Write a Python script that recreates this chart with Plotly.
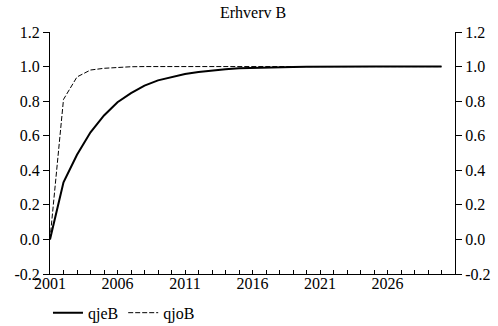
import plotly.graph_objects as go

# data
years = list(range(2001, 2031))
qjeB = [0.0, 0.33, 0.49, 0.62, 0.717, 0.794, 0.846, 0.89, 0.92, 0.94,
        0.957, 0.969, 0.978, 0.985, 0.99, 0.993, 0.995, 0.997, 0.998, 0.999,
        1.0, 1.0, 1.0, 1.0, 1.0, 1.0, 1.0, 1.0, 1.0, 1.0]
qjoB = [0.0, 0.81, 0.94, 0.98, 0.99, 0.996, 0.999, 1.0, 1.0, 1.0,
        1.0, 1.0, 1.0, 1.0, 1.0, 1.0, 1.0, 1.0, 1.0, 1.0,
        1.0, 1.0, 1.0, 1.0, 1.0, 1.0, 1.0, 1.0, 1.0, 1.0]
xticks = [2001, 2006, 2011, 2016, 2021, 2026]
yticks = [-0.2, 0.0, 0.2, 0.4, 0.6, 0.8, 1.0, 1.2]

font = "Liberation Serif"

fig = go.Figure()
fig.add_trace(go.Scatter(x=years, y=qjeB, mode="lines", name="qjeB",
                         line=dict(color="black", width=2)))
fig.add_trace(go.Scatter(x=years, y=qjoB, mode="lines", name="qjoB",
                         line=dict(color="black", width=1, dash="5px,2px")))
# invisible trace so right axis gets drawn
fig.add_trace(go.Scatter(x=years, y=qjeB, yaxis="y2", mode="lines",
                         line=dict(color="rgba(0,0,0,0)"), showlegend=False,
                         hoverinfo="skip"))

yax = dict(range=[-0.2, 1.2], tickvals=yticks, ticktext=["%.1f" % v for v in yticks],
           showgrid=False, zeroline=False, showline=True, linecolor="black",
           linewidth=1, ticks="outside", ticklen=6, tickcolor="black", automargin=False,
           tickfont=dict(family=font, size=16, color="black"))

fig.update_layout(
    width=498, height=326,
    margin=dict(l=50, r=43, t=32, b=52, autoexpand=False),
    paper_bgcolor="white", plot_bgcolor="white",
    font=dict(family=font, size=16, color="black"),
    xaxis=dict(range=[2001, 2031], tickvals=xticks, showgrid=False,
               zeroline=False, showline=True, linecolor="black", linewidth=1,
               ticks="inside", ticklen=4, tickcolor="black", automargin=False,
               ticklabelstandoff=-5,
               minor=dict(dtick=1, tick0=2001, ticks="inside", ticklen=4, tickcolor="black"),
               tickfont=dict(family=font, size=16, color="black")),
    yaxis=yax,
    yaxis2=dict(yax, overlaying="y", side="right"),
    showlegend=True,
    legend=dict(orientation="h", x=-0.005, xanchor="left", y=-0.09, yanchor="top",
                font=dict(family=font, size=16, color="black"),
                itemwidth=30, tracegroupgap=0, bgcolor="rgba(0,0,0,0)"),
    annotations=[dict(text="Erhverv B", xref="paper", yref="paper", x=0.5, y=1.0,
                      yshift=20, showarrow=False, xanchor="center", yanchor="middle",
                      font=dict(family=font, size=16, color="black"))],
)

# drop the default 8px page margin so the figure sits at the window corner
fig.write_html("out.html", config={"displayModeBar": False},
               post_script="document.body.style.margin='0';")
